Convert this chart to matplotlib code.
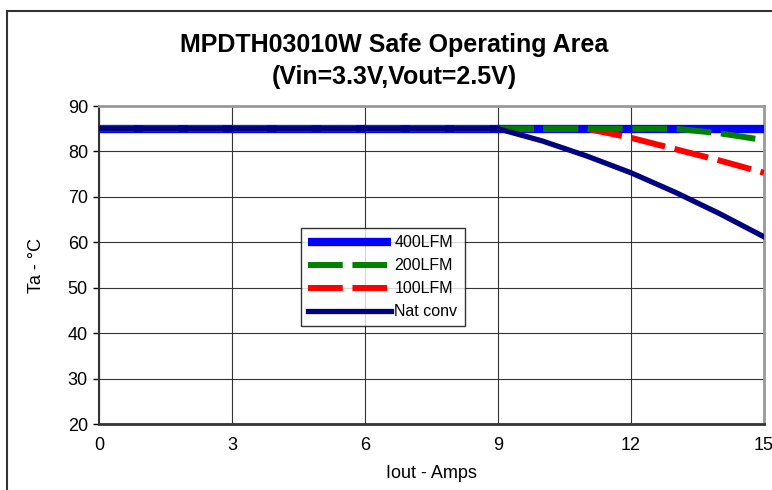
import numpy as np
import matplotlib.pyplot as plt
from matplotlib.patches import Rectangle

plt.rcParams['font.family'] = ['Liberation Sans', 'DejaVu Sans']
plt.rcParams['lines.scale_dashes'] = False

# data
x_400 = [0, 15]
y_400 = [85, 85]
x_200 = [0, 13, 14, 15]
y_200 = [85, 85, 84, 82.5]
x_100 = [0, 11, 12, 13, 14, 15]
y_100 = [85, 85, 83, 80.5, 78, 75.3]
x_nat = [0, 9, 10, 11, 12, 13, 14, 15]
y_nat = [85, 85, 82.3, 79, 75.3, 71, 66.3, 61.2]

xticks = [0, 3, 6, 9, 12, 15]
yticks = [20, 30, 40, 50, 60, 70, 80, 90]

fig = plt.figure(figsize=(7.72, 4.90), dpi=100)
# outer chart border (cut off at right/bottom)
fig.patches.append(Rectangle((7 / 772, -0.1), 1.2, 1 - 11 / 490 + 0.1,
                             transform=fig.transFigure, fill=False,
                             edgecolor='#333333', linewidth=1.5))

ax = fig.add_axes([99 / 772, 1 - 424 / 490, 665 / 772, 318 / 490])

ax.plot(x_400, y_400, color='#0000ff', lw=6, solid_capstyle='butt', label='400LFM', zorder=3)
l200, = ax.plot(x_200, y_200, color='#008000', lw=4.3, label='200LFM', zorder=5)
l200.set_dashes((25, 7))
l100, = ax.plot(x_100, y_100, color='#ff0000', lw=4.3, label='100LFM', zorder=4)
l100.set_dashes((25, 7))
ax.plot(x_nat, y_nat, color='#000080', lw=3.8, label='Nat conv', zorder=6)

ax.set_xlim(0, 15)
ax.set_ylim(20, 90)
ax.set_xticks(xticks)
ax.set_yticks(yticks)
ax.grid(True, color='#333333', lw=0.8)
ax.set_axisbelow(True)
ax.tick_params(axis='x', length=0, pad=9, labelsize=13)
ax.tick_params(axis='y', direction='out', length=4, width=1, labelsize=13, pad=4)
for s in ['top', 'right']:
    ax.spines[s].set_color('#999999')
    ax.spines[s].set_linewidth(2)
ax.spines['left'].set_color('#333333')
ax.spines['left'].set_linewidth(1.5)
ax.spines['bottom'].set_color('#333333')
ax.spines['bottom'].set_linewidth(2)

ax.set_xlabel('Iout - Amps', fontsize=13, labelpad=8)
ax.set_ylabel('Ta - °C', fontsize=13, labelpad=16)

leg = ax.legend(loc='upper left', bbox_to_anchor=((301 - 99) / 665, 1 - (228 - 106) / 318),
                fontsize=11.5, handlelength=5.2, frameon=True, fancybox=False,
                edgecolor='black', borderpad=0.45, labelspacing=0.5, handletextpad=0.2,
                borderaxespad=0)
leg.get_frame().set_linewidth(1)
leg.set_zorder(10)

fig.text(394 / 772, 1 - 45 / 490, 'MPDTH03010W Safe Operating Area', ha='center', va='center',
         fontsize=18, fontweight='bold')
fig.text(394 / 772, 1 - 77 / 490, '(Vin=3.3V,Vout=2.5V)', ha='center', va='center',
         fontsize=18, fontweight='bold')

fig.savefig('out.png', dpi=100)
